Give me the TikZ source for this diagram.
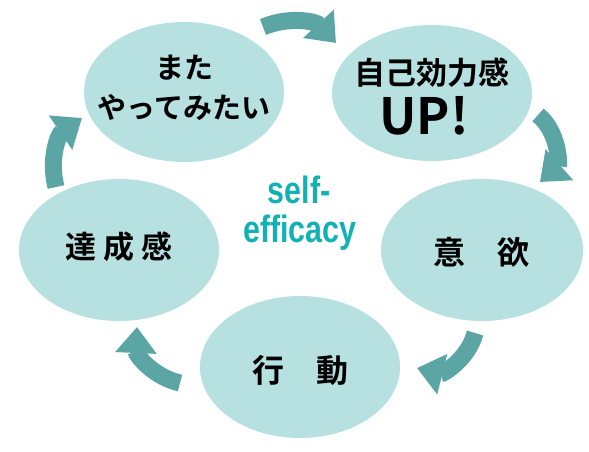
\documentclass[tikz,border=0pt]{standalone}
\usepackage{fontspec}
\usetikzlibrary{arrows.meta,shapes.geometric}
\newfontfamily\jp{Noto Sans CJK JP}[BoldFont={Noto Sans CJK JP Bold}]
\newfontfamily\cond{Liberation Sans}[FakeStretch=0.8]
\definecolor{ellfill}{HTML}{B7E0E0}
\definecolor{arrcol}{HTML}{5BA5A5}
\definecolor{seteal}{HTML}{12B2B4}
\tikzset{
  x=1pt,y=1pt,
  bubble/.style={ellipse,fill=ellfill,draw=none,inner sep=0pt},
  jptext/.style={font=\jp\bfseries\fontsize{29}{34}\selectfont,inner sep=0pt,anchor=center},
  cycarrow/.style={draw=arrcol,line width=17pt,-{Triangle[length=26pt,width=40pt]}},
}
\begin{document}
\begin{tikzpicture}
\useasboundingbox (0,0) rectangle (589,451);
\fill[white] (0,0) rectangle (589,451);
% bubbles
\node[bubble,minimum width=200pt,minimum height=140pt] (A) at (184,359) {};
\node[bubble,minimum width=200pt,minimum height=136pt] (B) at (432,358) {};
\node[bubble,minimum width=202pt,minimum height=142pt] (C) at (482,201) {};
\node[bubble,minimum width=200pt,minimum height=142pt] (D) at (300,84) {};
\node[bubble,minimum width=200pt,minimum height=142pt] (E) at (119,201) {};
% texts
\node[jptext] (ta1) at (184,383) {また};
\node[jptext] (ta2) at (184,344) {やってみたい};
\node[jptext,font=\jp\bfseries\fontsize{31}{36}\selectfont] (tb1) at (432,378) {自己効力感};
\node[jptext,font=\jp\bfseries\fontsize{50}{56}\selectfont] (tb2) at (424,335) {UP!};
\node[jptext,font=\jp\bfseries\fontsize{32}{36}\selectfont] (tc) at (481,199) {意　欲};
\node[jptext,font=\jp\bfseries\fontsize{32}{36}\selectfont] (td) at (300,81) {行　動};
\node[jptext,font=\jp\bfseries\fontsize{31}{36}\selectfont] (te) at (119,204) {達\hspace{7pt}成\hspace{7pt}感};
\node[inner sep=0pt,text=seteal,font=\cond\bfseries\fontsize{38}{44}\selectfont] (s1) at (299,261) {self-};
\node[inner sep=0pt,text=seteal,font=\cond\bfseries\fontsize{38}{44}\selectfont] (s2) at (300,218) {efficacy};
% arrows
\coordinate (a1s) at (263,424); \coordinate (a1e) at (336,408);
\coordinate (a2s) at (538,336); \coordinate (a2e) at (540,269);
\coordinate (a3s) at (475,118); \coordinate (a3e) at (417,83);
\coordinate (a4s) at (180,68);  \coordinate (a4e) at (137,124);
\coordinate (a5s) at (56,264);  \coordinate (a5e) at (82,333);
\draw[cycarrow] (a1s) to[bend left=35] (a1e);
\draw[cycarrow] (a2s) to[bend left=50] (a2e);
\draw[cycarrow] (a3s) to[bend left=45] (a3e);
\draw[cycarrow] (a4s) to[bend left=40] (a4e);
\draw[cycarrow] (a5s) to[bend left=35] (a5e);
\end{tikzpicture}
\end{document}
